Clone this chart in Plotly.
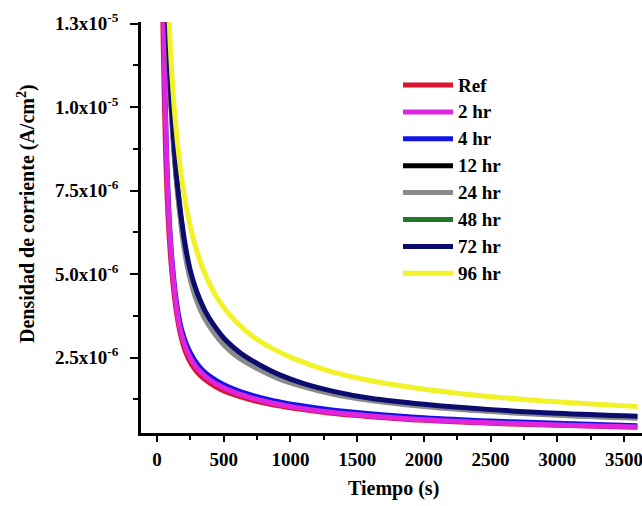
import numpy as np
import plotly.graph_objects as go

# ---------------- data (time in s, current density in µA/cm²) ----------------
series_names = ["Ref", "2 hr", "4 hr", "12 hr", "24 hr", "48 hr", "72 hr", "96 hr"]
series_colors = ["#dc1430", "#e026dc", "#1414e6", "#000000", "#8a8a8a", "#1f7a2a", "#0c0c6e", "#f2f228"]

t_ref = [40, 47, 55, 64, 76, 90, 106, 124, 146, 174, 213, 262, 322, 392, 470, 560, 690, 850, 1040, 1290, 1600, 2000, 2500, 3000, 3600]
j_ref = [13.5, 11.8, 10.2, 8.7, 7.3, 6.2, 5.3, 4.55, 3.85, 3.22, 2.68, 2.27, 1.97, 1.75, 1.56, 1.41, 1.25, 1.10, 0.97, 0.84, 0.73, 0.62, 0.53, 0.47, 0.41]

t_2hr = [45, 52, 60, 70, 82, 96, 112, 130, 152, 180, 220, 270, 330, 400, 480, 570, 700, 860, 1050, 1300, 1600, 2000, 2500, 3000, 3600]
j_2hr = [13.5, 11.8, 10.2, 8.7, 7.3, 6.2, 5.3, 4.55, 3.85, 3.25, 2.75, 2.35, 2.05, 1.82, 1.63, 1.47, 1.30, 1.14, 1.00, 0.86, 0.75, 0.64, 0.55, 0.48, 0.42]

t_4hr = [46, 53, 61, 71, 84, 98, 115, 134, 157, 187, 228, 280, 340, 410, 490, 580, 710, 870, 1060, 1310, 1600, 2000, 2500, 3000, 3600]
j_4hr = [13.5, 11.8, 10.2, 8.7, 7.3, 6.2, 5.3, 4.55, 3.87, 3.30, 2.82, 2.43, 2.13, 1.90, 1.71, 1.55, 1.37, 1.21, 1.07, 0.93, 0.82, 0.70, 0.60, 0.53, 0.46]

t_12hr = [71, 84, 99, 118, 143, 172, 207, 247, 297, 357, 427, 517, 627, 757, 917, 1100, 1330, 1600, 2000, 2500, 3000, 3600]
j_12hr = [13.5, 12.0, 10.6, 9.3, 8.0, 6.9, 5.85, 5.05, 4.4, 3.85, 3.4, 2.95, 2.58, 2.26, 1.95, 1.69, 1.45, 1.26, 1.08, 0.92, 0.81, 0.72]

t_24hr = [69, 82, 97, 115, 140, 168, 202, 242, 290, 350, 420, 510, 620, 750, 910, 1100, 1330, 1600, 2000, 2500, 3000, 3600]
j_24hr = [13.5, 12.0, 10.6, 9.3, 8.0, 6.9, 5.8, 4.95, 4.28, 3.72, 3.28, 2.84, 2.47, 2.17, 1.87, 1.62, 1.39, 1.21, 1.03, 0.88, 0.77, 0.68]

t_48hr = [70, 83, 98, 117, 142, 170, 205, 245, 294, 354, 424, 514, 624, 754, 914, 1100, 1330, 1600, 2000, 2500, 3000, 3600]
j_48hr = [13.5, 12.0, 10.6, 9.3, 8.0, 6.9, 5.82, 5.0, 4.34, 3.78, 3.34, 2.9, 2.52, 2.21, 1.91, 1.66, 1.42, 1.24, 1.05, 0.90, 0.79, 0.70]

t_72hr = [72, 85, 100, 120, 145, 175, 210, 250, 300, 360, 430, 520, 630, 760, 920, 1100, 1330, 1600, 2000, 2500, 3000, 3600]
j_72hr = [13.5, 12.0, 10.6, 9.3, 8.0, 6.9, 5.9, 5.1, 4.45, 3.9, 3.45, 3.0, 2.62, 2.30, 1.98, 1.72, 1.48, 1.28, 1.10, 0.94, 0.83, 0.74]

t_96hr = [88, 100, 115, 137, 165, 200, 240, 290, 350, 420, 500, 600, 720, 870, 1050, 1280, 1550, 1900, 2300, 2800, 3300, 3600]
j_96hr = [12.9, 11.8, 10.75, 9.6, 8.5, 7.45, 6.6, 5.8, 5.1, 4.5, 4.0, 3.54, 3.12, 2.76, 2.43, 2.11, 1.85, 1.61, 1.41, 1.23, 1.10, 1.03]

x_ticks = [0, 500, 1000, 1500, 2000, 2500, 3000, 3500]
y_ticks = [2.5e-6, 5.0e-6, 7.5e-6, 1.0e-5, 1.25e-5]
y_ticktext = ["2.5x10<sup>-6</sup>", "5.0x10<sup>-6</sup>", "7.5x10<sup>-6</sup>",
              "1.0x10<sup>-5</sup>", "1.3x10<sup>-5</sup>"]
y_minor = [1.25e-6, 3.75e-6, 6.25e-6, 8.75e-6, 1.125e-5]

all_t = [t_ref, t_2hr, t_4hr, t_12hr, t_24hr, t_48hr, t_72hr, t_96hr]
all_j = [j_ref, j_2hr, j_4hr, j_12hr, j_24hr, j_48hr, j_72hr, j_96hr]

# ---------------- layout geometry (pixels) ----------------
W, H = 642, 506
L, R, T, B = 141, 642, 22, 433
def px(x):
    return (x - L) / (R - L)
def py(y):
    return (B - y) / (B - T)

FONT = "Liberation Serif"

fig = go.Figure()
draw_order = [0, 2, 1, 3, 5, 4, 6, 7]
for i in draw_order:
    fig.add_trace(go.Scatter(
        x=all_t[i], y=np.array(all_j[i]) * 1e-6, mode="lines",
        line=dict(color=series_colors[i], width=5, shape="spline", smoothing=1.0),
        name=series_names[i], showlegend=False, hoverinfo="skip"))

# manual legend
shapes = []
annotations = []
for i, name in enumerate(series_names):
    yy = 85 + 26.9 * i
    shapes.append(dict(type="line", xref="paper", yref="paper",
                       x0=px(403), x1=px(453), y0=py(yy), y1=py(yy),
                       line=dict(color=series_colors[i], width=5)))
    annotations.append(dict(xref="paper", yref="paper", x=px(456), y=py(yy),
                            text=name, showarrow=False, xanchor="left", yanchor="middle",
                            font=dict(family=FONT, size=19, color="black", weight="bold")))

annotations.append(dict(xref="paper", yref="paper", x=px(393), y=py(488),
                        text="Tiempo (s)", showarrow=False, xanchor="center", yanchor="middle",
                        font=dict(family=FONT, size=20, color="black", weight="bold")))
annotations.append(dict(xref="paper", yref="paper", x=px(26), y=py(214),
                        text="Densidad de corriente (A/cm<sup>2</sup>)", textangle=-90,
                        showarrow=False, xanchor="center", yanchor="middle",
                        font=dict(family=FONT, size=20, color="black", weight="bold")))

fig.update_layout(
    width=W, height=H,
    margin=dict(l=L, r=W - R, t=T, b=H - B),
    paper_bgcolor="white", plot_bgcolor="white",
    shapes=shapes, annotations=annotations,
    showlegend=False,
)
fig.update_xaxes(
    range=[-120, 3635], showgrid=False, zeroline=False,
    showline=True, linecolor="black", linewidth=2.5,
    tickmode="array", tickvals=x_ticks, ticks="outside", ticklen=6, tickwidth=2, tickcolor="black",
    ticklabelstandoff=1, ticklabeloverflow="allow",
    tickfont=dict(family=FONT, size=19, color="black", weight="bold"),
    minor=dict(tickmode="linear", tick0=250, dtick=500, ticks="outside", ticklen=4, tickwidth=2, tickcolor="black"),
)
fig.update_yaxes(
    range=[0.24e-6, 12.55e-6], showgrid=False, zeroline=False,
    showline=True, linecolor="black", linewidth=2.5,
    tickmode="array", tickvals=y_ticks, ticktext=y_ticktext,
    ticks="outside", ticklen=8, tickwidth=2, tickcolor="black",
    ticklabelstandoff=8,
    tickfont=dict(family=FONT, size=19, color="black", weight="bold"),
    minor=dict(tickmode="array", tickvals=y_minor, ticks="outside", ticklen=5, tickwidth=2, tickcolor="black"),
)

fig.write_html("out.html")
